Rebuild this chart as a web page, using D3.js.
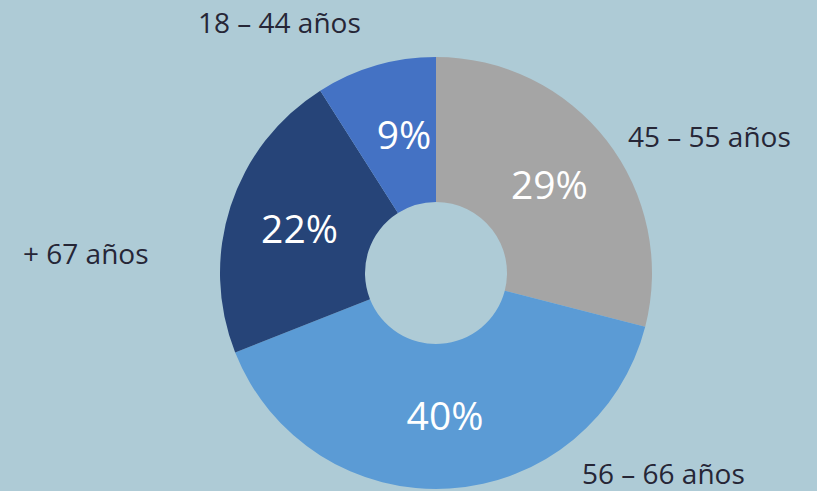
<!DOCTYPE html>
<html><head><meta charset="utf-8">
<script src="https://cdn.jsdelivr.net/npm/d3@7"></script>
<style>html,body{margin:0;padding:0;background:#aecbd6;}svg{display:block;}</style>
</head><body>
<svg id="c" width="817" height="491"></svg>
<script>
const categories = ["45 – 55 años", "56 – 66 años", "+ 67 años", "18 – 44 años"];
const values = [29, 40, 22, 9];
const colors = ["#a5a5a5", "#5b9bd5", "#264478", "#4472c4"];
const labelPos = [[628,147,"start"],[582,484,"start"],[23,264,"start"],[198,33,"start"]];

const svg = d3.select("#c");
const cx = 436, cy = 273, rOut = 216, rIn = 71;
const pie = d3.pie().sort(null).value(d => d)(values);
const arc = d3.arc().innerRadius(rIn).outerRadius(rOut);
const g = svg.append("g").attr("transform", `translate(${cx},${cy})`);
g.selectAll("path").data(pie).join("path").attr("d", arc).attr("fill", (d,i) => colors[i]);
g.selectAll("text.pct").data(pie).join("text").attr("class","pct")
  .attr("transform", (d,i) => { const c = arc.centroid(d); const dx = i === 3 ? 8 : 0; return `translate(${c[0]+dx},${c[1]})`; })
  .attr("dy", "0.36em").attr("text-anchor","middle")
  .attr("fill","#fff").attr("font-family","'Open Sans', sans-serif").attr("font-size",39)
  .text(d => d.value + "%");
svg.selectAll("text.lab").data(categories).join("text").attr("class","lab")
  .attr("x", (d,i) => labelPos[i][0]).attr("y", (d,i) => labelPos[i][1])
  .attr("text-anchor", (d,i) => labelPos[i][2])
  .attr("fill","#262636").attr("font-family","'Open Sans', sans-serif").attr("font-size",28)
  .text(d => d);
</script>
</body></html>
